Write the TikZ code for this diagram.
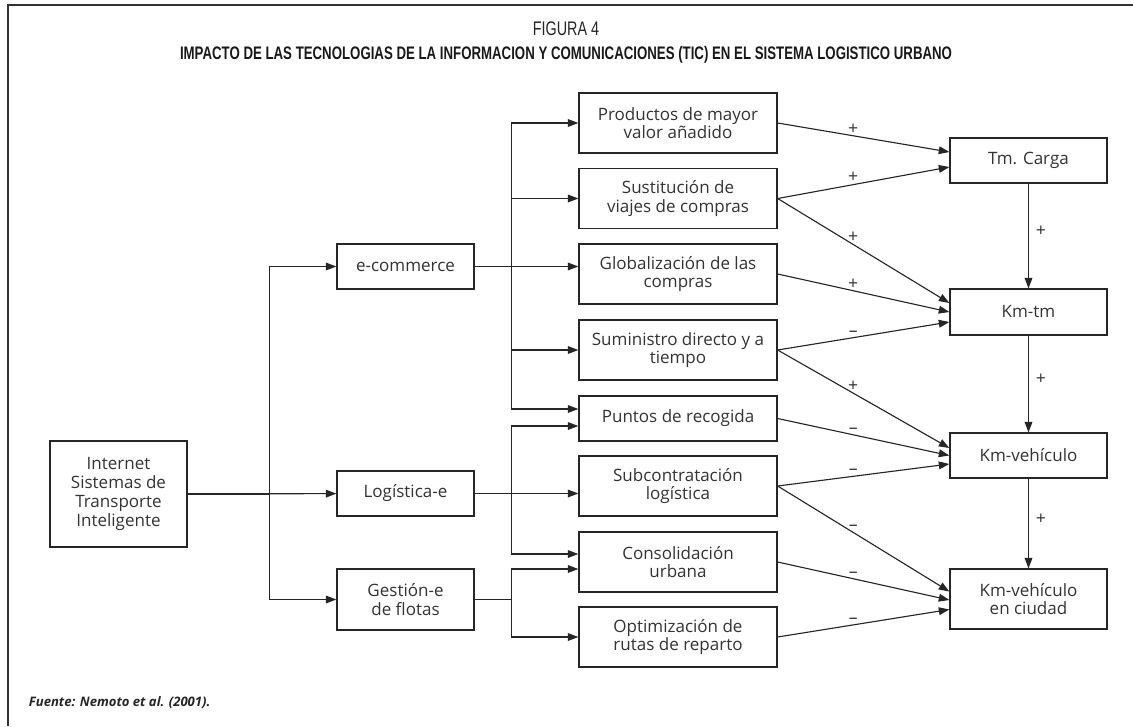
\documentclass[tikz,border=0pt]{standalone}
\usepackage{fontspec}
\setmainfont{Open Sans}
\newfontfamily\titlefont[FakeStretch=0.73]{Liberation Sans}
\usetikzlibrary{arrows.meta,positioning,calc}

\begin{document}
\begin{tikzpicture}[x=0.025cm, y=-0.025cm, >={Triangle[length=7.5pt,width=5.5pt]}]

\tikzset{
  block/.style={
    rectangle, draw=black!85, line width=0.9pt, align=center,
    text=black!80, inner sep=2pt,
    font=\fontsize{12.1}{13}\selectfont
  },
  midbox/.style={block, minimum width=3.425cm},
  effbox/.style={block, minimum width=4.95cm},
  outbox/.style={block, minimum width=3.925cm},
  arrow/.style={->, line width=0.8pt, draw=black!85},
  sgn/.style={font=\fontsize{12.5}{13}\selectfont, text=black!80, inner sep=0.8pt}
}

\useasboundingbox (0,0) rectangle (1133,726);

% ==========================
% Marco y titulos
% ==========================
\draw[line width=1.3pt, black!80] (8,726) -- (8,5) -- (1133,5);
\node[font=\titlefont\fontsize{14}{15}\selectfont, text=black!85] (fig) at (566,29) {FIGURA 4};
\node[font=\titlefont\bfseries\fontsize{12.9}{14}\selectfont, text=black!90] (title) at (566,55)
  {IMPACTO DE LAS TECNOLOGIAS DE LA INFORMACION Y COMUNICACIONES (TIC) EN EL SISTEMA LOGISTICO URBANO};

% ==========================
% Origen y medios (columnas izquierdas)
% ==========================
\node[midbox, minimum height=2.65cm, font=\fontsize{12.1}{13.3}\selectfont] (inet) at (118.5,494)
  {Internet\\Sistemas de\\Transporte\\Inteligente};
\node[midbox, minimum height=1.125cm] (ecom) at (405.5,266.5) {e-commerce};
\node[midbox, minimum height=1.125cm] (logi) at (405.5,493.5) {Logística-e};
\node[midbox, minimum height=1.525cm] (gest) at (405.5,599.5) {Gestión-e\\de flotas};

\draw[arrow] (inet) -- (logi);
\draw[arrow] (inet.east) -- ++(82,0) |- (ecom.west);
\draw[arrow] (inet.east) -- ++(82,0) |- (gest.west);

% ==========================
% Efectos (columna central)
% ==========================
\node[effbox, minimum height=1.5cm] (prod) at (678,123) {Productos de mayor\\valor añadido};
\node[effbox, minimum height=1.5cm] (sust) at (678,198.5) {Sustitución de\\viajes de compras};
\node[effbox, minimum height=1.5cm] (glob) at (678,274) {Globalización de las\\compras};
\node[effbox, minimum height=1.5cm] (sumi) at (678,350) {Suministro directo y a\\tiempo};
\node[effbox, minimum height=1.125cm] (punt) at (678,418.5) {Puntos de recogida};
\node[effbox, minimum height=1.5cm] (subc) at (678,486) {Subcontratación\\logística};
\node[effbox, minimum height=1.5cm] (cons) at (678,562) {Consolidación\\urbana};
\node[effbox, minimum height=1.5cm] (opti) at (678,637) {Optimización de\\rutas de reparto};

% e-commerce
\draw[arrow] (ecom.east) -- ++(37,0) |- (prod.west);
\draw[arrow] (ecom.east) -- ++(37,0) |- (sust.west);
\draw[arrow] (ecom.east) -- (ecom.east -| glob.west);
\draw[arrow] (ecom.east) -- ++(37,0) |- (sumi.west);
\draw[arrow] (ecom.east) -- ++(37,0) |- ($(punt.west)+(0,-9.5)$);

% Logistica-e
\draw[arrow] (logi.east) -- ++(37,0) |- ($(punt.west)+(0,7.5)$);
\draw[arrow] (logi.east) -- (logi.east -| subc.west);
\draw[arrow] (logi.east) -- ++(37,0) |- ($(cons.west)+(0,-8)$);

% Gestion-e de flotas
\draw[arrow] (gest.east) -- ++(37,0) |- ($(cons.west)+(0,7)$);
\draw[arrow] (gest.east) -- ++(37,0) |- (opti.west);

% ==========================
% Resultados (columna derecha)
% ==========================
\node[outbox, minimum height=1.125cm] (tmc) at (1028.5,160.5) {Tm. Carga};
\node[outbox, minimum height=1.15cm] (kmtm) at (1028.5,312) {Km-tm};
\node[outbox, minimum height=1.125cm] (kmveh) at (1028.5,455.5) {Km-vehículo};
\node[outbox, minimum height=1.5cm] (kmciu) at (1028.5,599) {Km-vehículo\\en ciudad};

\draw[arrow] (prod.east) -- node[sgn, pos=.44, above] {+} ($(tmc.west)+(0,-8.5)$);
\draw[arrow] (sust.east) -- node[sgn, pos=.44, above] {+} ($(tmc.west)+(0,6.5)$);
\draw[arrow] (sust.east) -- node[sgn, pos=.44, above] {+} ($(kmtm.west)+(0,-9)$);
\draw[arrow] (glob.east) -- node[sgn, pos=.44, above] {+} (kmtm.west);
\draw[arrow] (sumi.east) -- node[sgn, pos=.44, above] {–} ($(kmtm.west)+(0,10)$);
\draw[arrow] (sumi.east) -- node[sgn, pos=.44, above] {+} ($(kmveh.west)+(0,-7.5)$);
\draw[arrow] (punt.east) -- node[sgn, pos=.44, above] {–} (kmveh.west);
\draw[arrow] (subc.east) -- node[sgn, pos=.44, above] {–} ($(kmveh.west)+(0,8.5)$);
\draw[arrow] (subc.east) -- node[sgn, pos=.44, above] {–} ($(kmciu.west)+(0,-7.5)$);
\draw[arrow] (cons.east) -- node[sgn, pos=.44, above] {–} ($(kmciu.west)+(0,1)$);
\draw[arrow] (opti.east) -- node[sgn, pos=.44, above] {–} ($(kmciu.west)+(0,10.5)$);

\draw[arrow] (tmc) -- node[sgn, pos=.45, right=4pt] {+} (kmtm);
\draw[arrow] (kmtm) -- node[sgn, pos=.45, right=4pt] {+} (kmveh);
\draw[arrow] (kmveh) -- node[sgn, pos=.45, right=4pt] {+} (kmciu);

% Fuente
\node[anchor=west, font=\bfseries\itshape\fontsize{9.3}{11}\selectfont, text=black!85] (src) at (24,703)
  {Fuente: Nemoto et al. (2001).};

\end{tikzpicture}
\end{document}
